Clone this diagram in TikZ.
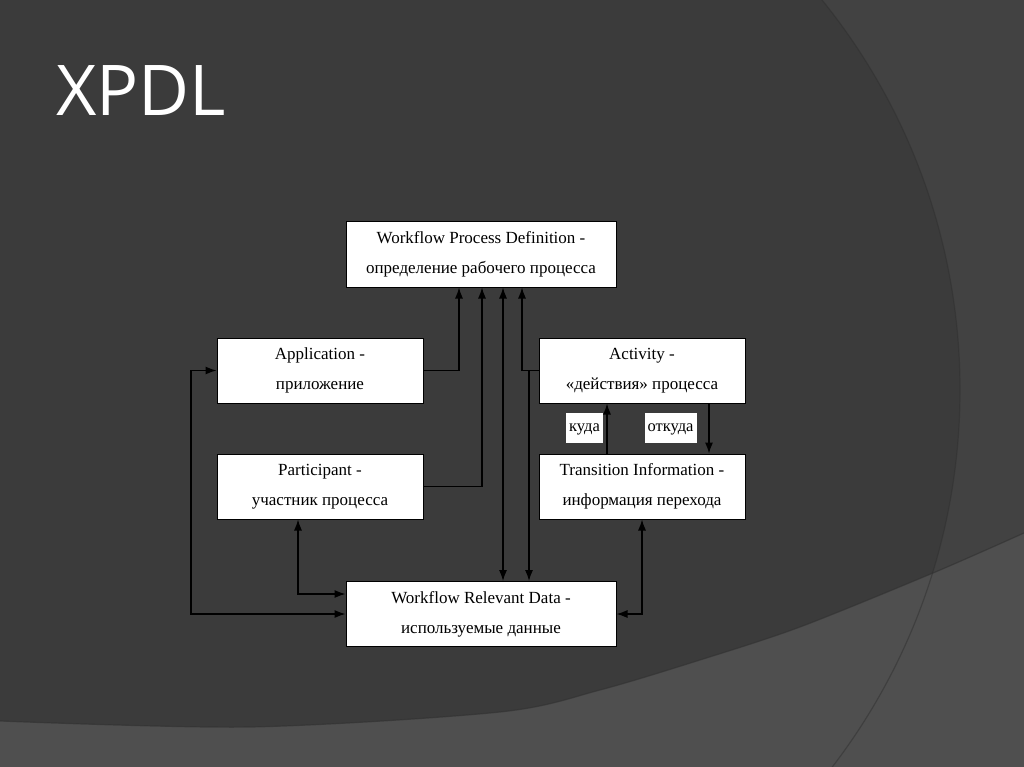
\documentclass[tikz,border=0pt]{standalone}
\usepackage{fontspec}
\setmainfont{Liberation Serif}
\newfontfamily\titlefont{Open Sans}
\usetikzlibrary{arrows.meta,calc}
\definecolor{bgmain}{HTML}{3B3B3B}
\definecolor{bgout}{HTML}{424242}
\definecolor{bgband}{HTML}{4F4F4F}
\definecolor{bgshadow}{HTML}{303030}
\tikzset{
  box/.style={draw=black, fill=white, line width=1pt, align=center, inner sep=0pt,
    font=\fontsize{17}{30}\selectfont, text=black},
  wide/.style={box, minimum width=270pt, minimum height=65pt},
  narrow/.style={box, minimum width=206pt, minimum height=65pt},
  lbl/.style={fill=white, inner sep=0pt, minimum height=30pt, text height=8pt, text depth=0pt,
    font=\fontsize{16.5}{18}\selectfont, text=black},
  conn/.style={draw=black, line width=1.2pt},
  arr/.style={conn, -{Latex[length=11pt,width=8pt]}},
  darr/.style={conn, {Latex[length=11pt,width=8pt]}-{Latex[length=11pt,width=8pt]}},
  ttl/.style={text=white, font=\titlefont\fontsize{70}{80}\selectfont, inner sep=0pt, anchor=base west}
}
\begin{document}
\begin{tikzpicture}[x=1pt,y=-1pt]
\useasboundingbox (0,0) rectangle (1024,767);
% background
\fill[bgout] (0,0) rectangle (1024,767);
\fill[bgmain] (340,390) circle[radius=620pt];
\fill[bgband] (0,721) plot[smooth] coordinates {(0,721) (250,727) (500,712) (600,690) (700,660) (800,627) (933,573) (1024,533)} -- (1024,767) -- (0,767) -- cycle;
\draw[bgshadow, line width=1.2pt, opacity=0.6] plot[smooth] coordinates {(0,721) (250,727) (500,712) (600,690) (700,660) (800,627) (933,573) (1024,533)};
\draw[bgshadow, line width=1.2pt, opacity=0.5] (340,390) circle[radius=620pt];
% title
\node[ttl] (title) at (56,116) {XPDL};
% boxes
\node[wide] (wpd) at (481,254.5) {Workflow Process Definition -\\определение рабочего процесса};
\node[narrow] (app) at (320,370.5) {Application -\\приложение};
\node[narrow] (act) at (642,370.5) {Activity -\\«действия» процесса};
\node[narrow] (part) at (320,486.5) {Participant -\\участник процесса};
\node[narrow] (trans) at (642,486.5) {Transition Information -\\информация перехода};
\node[wide] (wrd) at (481,614) {Workflow Relevant Data -\\используемые данные};
\node[lbl, minimum width=37pt] (kuda) at (584.5,427.5) {куда};
\node[lbl, minimum width=52pt] (otkuda) at (670.5,427.5) {откуда};
% connection points
\coordinate (wa) at ($(wpd.south)+(-22,0)$);
\coordinate (wb) at ($(wpd.south)+(1,0)$);
\coordinate (wc) at ($(wpd.south)+(22,0)$);
\coordinate (wd) at ($(wpd.south)+(41,0)$);
\coordinate (ad) at ($(act.west)+(-9.5,0)$);
\coordinate (ab) at ($(act.south)+(67,0)$);
\coordinate (tb) at ($(trans.north)+(-35,0)$);
\coordinate (pb) at ($(part.south)+(-22,0)$);
\coordinate (wl) at ($(wrd.west)+(0,-20)$);
\coordinate (lc) at ($(app.west)+(-25.5,0)$);
% connectors
\draw[arr] (app.east) -| (wa);
\draw[arr] (part.east) -| (wb);
\draw[darr] (wc) -- (wc |- wrd.north);
\draw[arr] (act.west) -| (wd);
\draw[arr] (ad) -- (ad |- wrd.north);
\draw[arr] (ab) -- (ab |- trans.north);
\draw[arr] (tb) -- (tb |- act.south);
\draw[darr] (trans.south) |- (wrd.east);
\draw[darr] (pb) |- (wl);
\draw[darr] (app.west) -- (lc) |- (wrd.west);
\end{tikzpicture}
\end{document}
